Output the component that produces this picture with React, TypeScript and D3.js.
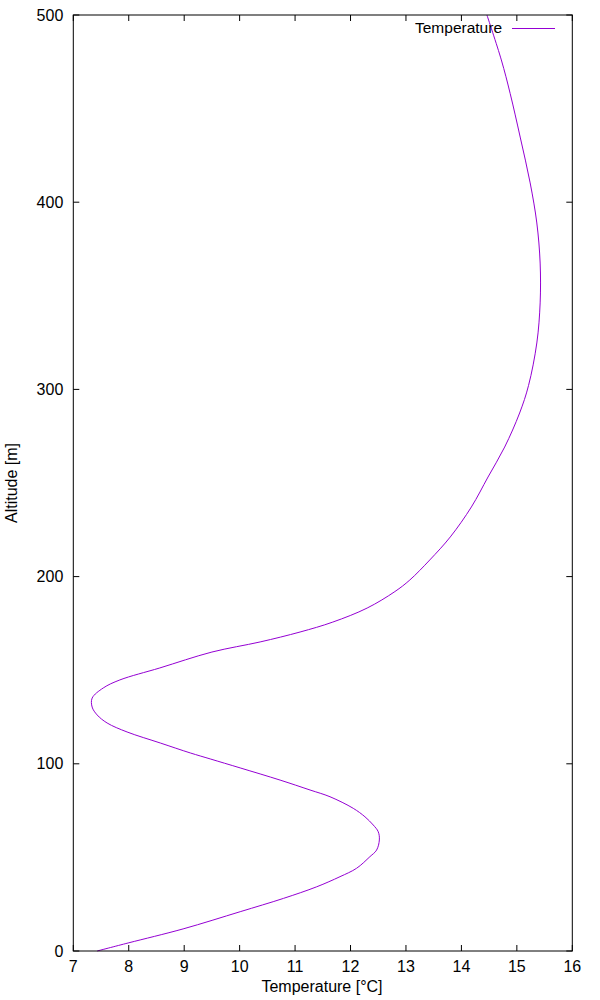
import React from "react";
import * as d3 from "d3";

const temperature = [
  7.43, 7.99, 8.98, 10.01, 10.79, 11.39, 11.81, 12.11, 12.35, 12.47, 12.52, 12.5, 12.41, 12.26,
  12.05, 11.63, 11.27, 10.73, 10.01, 9.47, 9.11, 8.57, 7.97, 7.61, 7.43, 7.34, 7.34, 7.54, 7.84,
  8.56, 9.5, 10.37, 11.09, 11.68, 12.3, 12.8, 13.07, 13.43, 13.8, 14.18, 14.48, 14.78, 15.05,
  15.21, 15.36, 15.42, 15.42, 15.36, 15.24, 15.06, 14.88, 14.72, 14.46,
];
const altitude = [
  0, 4.3, 11.8, 21.0, 28.1, 34.3, 39.7, 44.2, 50.4, 53.9, 59.3, 63.7, 67.3, 71.7, 76.2, 82.4,
  86.0, 91.3, 97.8, 102.6, 105.8, 111.1, 117, 121.8, 126.1, 130.3, 135.1, 140.5, 144.8, 151.2,
  159.7, 165.1, 170.4, 175.7, 183.2, 192, 198.2, 208.9, 221.2, 237.2, 253.2, 269.2, 287.4, 302,
  324.8, 346.2, 367.5, 388.9, 410.3, 434.8, 458, 476, 500,
];
const xTicks = [7, 8, 9, 10, 11, 12, 13, 14, 15, 16];
const yTicks = [0, 100, 200, 300, 400, 500];
const seriesName = "Temperature";

export default function App() {
  const left = 73.3, right = 572.3, top = 15, bottom = 951;
  const x = d3.scaleLinear().domain([7, 16]).range([left, right]);
  const y = d3.scaleLinear().domain([0, 500]).range([bottom, top]);
  const pts: [number, number][] = temperature.map((t, i) => [t, altitude[i]]);
  const line = d3
    .line<[number, number]>()
    .x((d) => x(d[0]))
    .y((d) => y(d[1]))
    .curve(d3.curveCatmullRom.alpha(0.5));
  const color = "#9400d3";
  const font = "'Liberation Sans', Arial, sans-serif";
  const tl = 6;
  return (
    <svg
      width={600}
      height={1000}
      style={{ position: "absolute", left: 0, top: 0, background: "#fff" }}
      fontFamily={font}
    >
      <rect x={0} y={0} width={600} height={1000} fill="#fff" />
      <path d={line(pts) || ""} fill="none" stroke={color} strokeWidth={1} />
      {xTicks.map((t) => (
        <g key={"x" + t}>
          <line x1={x(t)} x2={x(t)} y1={bottom} y2={bottom - tl} stroke="#000" />
          <line x1={x(t)} x2={x(t)} y1={top} y2={top + tl} stroke="#000" />
          <text x={x(t)} y={bottom + 21} textAnchor="middle" fontSize={16} fill="#000">
            {t}
          </text>
        </g>
      ))}
      {yTicks.map((t) => (
        <g key={"y" + t}>
          <line x1={left} x2={left + tl} y1={y(t)} y2={y(t)} stroke="#000" />
          <line x1={right} x2={right - tl} y1={y(t)} y2={y(t)} stroke="#000" />
          <text x={left - 10} y={y(t) + 5.5} textAnchor="end" fontSize={16} fill="#000">
            {t}
          </text>
        </g>
      ))}
      <rect x={left} y={top} width={right - left} height={bottom - top} fill="none" stroke="#000" />
      <text x={322} y={992} textAnchor="middle" fontSize={16} fill="#000">
        Temperature [°C]
      </text>
      <text
        transform={`translate(17,${(top + bottom) / 2}) rotate(-90)`}
        textAnchor="middle"
        fontSize={16}
        fill="#000"
      >
        Altitude [m]
      </text>
      <text x={502} y={33} textAnchor="end" fontSize={15.5} fill="#000">
        {seriesName}
      </text>
      <line x1={512} x2={555} y1={28.5} y2={28.5} stroke={color} strokeWidth={1} />
    </svg>
  );
}
